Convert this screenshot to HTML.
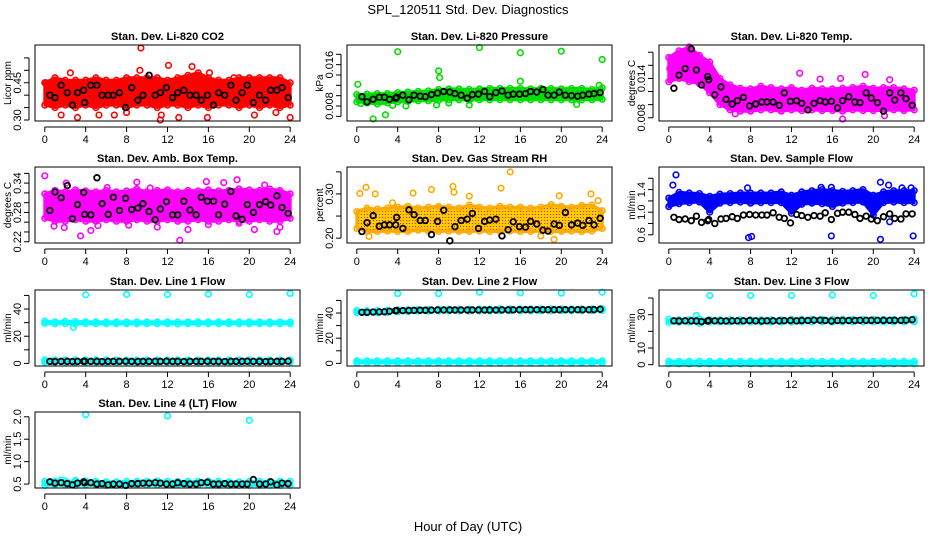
<!DOCTYPE html>
<html><head><meta charset="utf-8"><style>
html,body{margin:0;padding:0;background:#fff;}
svg{display:block;font-family:"Liberation Sans",sans-serif;}
</style></head><body>
<svg id="fig" width="936" height="540" viewBox="0 0 936 540" xmlns="http://www.w3.org/2000/svg">
<defs>
<pattern id="rhpat" width="3" height="3" patternUnits="userSpaceOnUse"><rect width="3" height="3" fill="#ffcc00"/><rect x="1" y="1" width="1" height="1" fill="#ff2000"/></pattern>
</defs>
<text x="468" y="14" font-size="13" text-anchor="middle">SPL_120511  Std. Dev. Diagnostics</text>
<text x="468" y="531" font-size="13" text-anchor="middle">Hour of Day (UTC)</text>
<g id="panels"></g>
</svg>
<script>
// shared hour grids
const bandHours = [0,1,2,3,4,5,6,7,8,9,10,11,12,13,14,15,16,17,18,19,20,21,22,23,24];
const blkHours = [0.5,1,1.6,2.2,2.7,3.2,3.8,3.9,4.5,5.1,5.6,6.2,6.7,7.3,7.9,8.5,9.1,9.6,10.2,10.8,11.3,11.9,12.5,13,13.6,14.2,14.8,15.3,15.9,16.5,17,17.6,18.2,18.7,19.3,19.8,20.4,21,21.6,22.1,22.7,23.2,23.8];
const xTicks = [0,4,8,12,16,20,24];

// Panel 1 CO2
const co2Lo = [0.36,0.35,0.36,0.35,0.36,0.35,0.36,0.36,0.35,0.36,0.36,0.35,0.36,0.36,0.35,0.36,0.35,0.36,0.36,0.35,0.36,0.35,0.36,0.35,0.36];
const co2Hi = [0.45,0.47,0.46,0.46,0.46,0.47,0.46,0.46,0.47,0.47,0.47,0.47,0.46,0.47,0.48,0.49,0.47,0.46,0.46,0.47,0.47,0.47,0.47,0.47,0.45];
const co2OutX = [9.4,12.1,14.4,9.3,2.5,16.1,11.3,3.2,24,1.6,15.9,5.3,13.1,20.5,22.6,6.8,8,0.1,11.4,18.5];
const co2OutY = [0.59,0.52,0.515,0.50,0.49,0.49,0.30,0.31,0.31,0.32,0.31,0.32,0.31,0.32,0.33,0.32,0.33,0.45,0.32,0.47];
const co2Blk = [0.40,0.39,0.44,0.41,0.36,0.41,0.42,0.37,0.44,0.44,0.40,0.40,0.40,0.41,0.35,0.43,0.38,0.40,0.48,0.40,0.41,0.43,0.39,0.41,0.42,0.40,0.40,0.38,0.40,0.36,0.41,0.40,0.44,0.38,0.41,0.44,0.37,0.40,0.38,0.42,0.42,0.43,0.39];
// Panel 2 Pressure
const prLo = [0.0088,0.0086,0.0084,0.0086,0.0088,0.0089,0.0090,0.0090,0.0091,0.0092,0.0092,0.0091,0.0092,0.0092,0.0092,0.0092,0.0092,0.0092,0.0092,0.0092,0.0092,0.0092,0.0092,0.0092,0.0093];
const prHi = [0.0102,0.0103,0.0104,0.0104,0.0106,0.0107,0.0108,0.0109,0.0112,0.0113,0.0113,0.0112,0.0113,0.0114,0.0114,0.0114,0.0114,0.0113,0.0114,0.0114,0.0113,0.0114,0.0114,0.0112,0.0115];
const prOutX = [4,12,16,20,24,8,8.1,0.1,16,1.6,2.8,4.8,7.8,11,21.5,0.4,3.5,9,23.7];
const prOutY = [0.0185,0.0193,0.0183,0.0186,0.0170,0.0148,0.0135,0.0122,0.0128,0.0055,0.0063,0.0080,0.0082,0.0082,0.0083,0.0085,0.0081,0.0086,0.0120];
const prBlk = [0.0098,0.0088,0.0093,0.0097,0.0097,0.0093,0.0095,0.0097,0.0101,0.0092,0.0101,0.0099,0.0098,0.0102,0.0105,0.0108,0.0107,0.0104,0.0101,0.0095,0.0102,0.0103,0.0108,0.0098,0.0106,0.0109,0.0101,0.0103,0.0103,0.0104,0.0108,0.0107,0.0112,0.0101,0.0101,0.0107,0.0101,0.0100,0.0099,0.0101,0.0103,0.0104,0.0106];
// Panel 3 Temp
const tmLo = [0.0135,0.0140,0.0135,0.0132,0.0118,0.0100,0.0092,0.0090,0.0090,0.0092,0.0092,0.0090,0.0092,0.0091,0.0092,0.0091,0.0091,0.0090,0.0092,0.0091,0.0091,0.0091,0.0092,0.0091,0.0092];
const tmHi = [0.0172,0.0182,0.0188,0.0175,0.0165,0.0140,0.0130,0.0125,0.0124,0.0128,0.0126,0.0124,0.0126,0.0122,0.0125,0.0124,0.0124,0.0125,0.0126,0.0128,0.0125,0.0126,0.0126,0.0124,0.0122];
const tmOutX = [12.8,16.8,19.2,21.6,17,21.1,6.5,0.1,14.8];
const tmOutY = [0.0148,0.0140,0.0146,0.0138,0.0078,0.0083,0.0086,0.0155,0.0139];
const tmBlk = [0.0125,0.0145,0.0155,0.0185,0.0153,0.0130,0.0143,0.0138,0.0115,0.0127,0.0108,0.0101,0.0106,0.0111,0.0098,0.0101,0.0104,0.0104,0.0104,0.0099,0.0118,0.0105,0.0106,0.0102,0.0092,0.0102,0.0106,0.0104,0.0105,0.0095,0.0106,0.0112,0.0104,0.0103,0.0118,0.0110,0.0103,0.0090,0.0118,0.0107,0.0118,0.0109,0.0099];
// Panel 4 Amb box temp
const abLo = [0.268,0.262,0.262,0.265,0.262,0.262,0.265,0.262,0.262,0.265,0.262,0.262,0.265,0.262,0.262,0.265,0.262,0.262,0.265,0.262,0.262,0.265,0.262,0.262,0.268];
const abHi = [0.318,0.325,0.322,0.326,0.324,0.322,0.325,0.322,0.324,0.328,0.322,0.325,0.326,0.322,0.325,0.324,0.326,0.324,0.325,0.328,0.326,0.325,0.328,0.325,0.318];
const abOutX = [0,3.5,13.2,4.5,1.9,9,11,14,15.8,18.8,20.5,21.5,22.7,8.2,5.2,0.9,6.1,2.1,17.5,10.3,16,19,23];
const abOutY = [0.355,0.232,0.223,0.243,0.249,0.342,0.250,0.245,0.343,0.347,0.245,0.336,0.241,0.254,0.253,0.252,0.331,0.340,0.341,0.330,0.255,0.258,0.250];
const abBlk = [0.284,0.322,0.310,0.335,0.267,0.296,0.321,0.276,0.275,0.351,0.298,0.276,0.311,0.284,0.309,0.286,0.289,0.298,0.282,0.265,0.287,0.302,0.275,0.275,0.303,0.285,0.275,0.311,0.303,0.303,0.275,0.297,0.323,0.273,0.266,0.296,0.280,0.296,0.302,0.295,0.314,0.290,0.278];
// Panel 5 Gas stream RH
const rhLo = [0.222,0.215,0.215,0.216,0.215,0.215,0.218,0.216,0.215,0.216,0.215,0.215,0.216,0.215,0.215,0.216,0.215,0.215,0.216,0.215,0.215,0.216,0.215,0.216,0.222];
const rhHi = [0.260,0.268,0.266,0.268,0.270,0.272,0.268,0.270,0.272,0.270,0.268,0.275,0.270,0.268,0.272,0.270,0.270,0.268,0.270,0.276,0.272,0.270,0.274,0.275,0.262];
const rhOutX = [15,0.9,0.3,1.8,7.3,9.4,9.5,14.1,5.5,19.3,1.2,18,3.5,11,22.9,23.6,19.8];
const rhOutY = [0.350,0.315,0.301,0.300,0.310,0.317,0.304,0.313,0.302,0.197,0.204,0.205,0.280,0.295,0.300,0.285,0.296];
const rhBlk = [0.215,0.235,0.251,0.227,0.230,0.230,0.230,0.247,0.222,0.264,0.253,0.240,0.240,0.208,0.238,0.263,0.194,0.226,0.240,0.243,0.256,0.222,0.238,0.241,0.243,0.205,0.219,0.237,0.226,0.225,0.238,0.232,0.218,0.216,0.232,0.229,0.258,0.230,0.234,0.229,0.240,0.230,0.245];
// Panel 6 Sample flow
const sfLo = [1.10,1.15,1.17,1.18,1.00,1.16,1.17,1.18,1.16,1.17,1.17,1.17,0.98,1.14,1.16,1.15,1.10,1.16,1.17,1.18,0.95,1.17,1.18,1.17,1.17];
const sfHi = [1.25,1.35,1.34,1.33,1.28,1.32,1.33,1.34,1.34,1.34,1.34,1.36,1.30,1.36,1.38,1.40,1.38,1.37,1.38,1.40,1.30,1.36,1.38,1.38,1.38];
const sfOutX = [0.7,0.4,7.8,8.1,15.9,23.9,20.7,20.7,21.5,7.7,14.9,15.9,21.6,22.8,23.7];
const sfOutY = [1.66,1.48,0.55,0.57,0.58,0.58,0.52,1.53,1.48,1.43,1.44,1.44,0.83,1.43,1.43];
const sfBlk = [0.91,0.87,0.88,0.85,0.93,0.82,0.85,0.87,0.80,0.88,0.89,0.92,0.89,0.95,0.96,0.95,0.95,0.95,0.99,0.91,0.89,0.81,0.96,0.94,0.91,0.94,0.93,0.99,0.87,0.98,1.00,1.00,0.96,0.89,0.93,0.88,0.85,0.92,0.97,0.89,0.88,0.97,0.97];
// Panel 7 Line 1 flow
const l1HiLo = [29.5,29.2,29.3,29.2,29.3,29.2,29.2,29.2,29.2,29.2,29.2,29.2,29.2,29.0,29.2,29.2,29.2,29.2,29.2,29.2,29.2,29.2,29.2,29.2,29.2];
const l1HiHi = [31.0,30.5,31.0,30.8,30.6,30.5,30.5,30.5,30.5,30.5,30.5,30.5,30.5,30.5,30.5,30.5,30.5,30.5,30.5,30.5,30.5,30.5,30.5,30.5,30.5];
const l1LoLo = [1.0,1.0,1.0,1.0,1.0,1.0,1.0,1.0,1.0,1.0,1.0,1.0,1.0,1.0,1.0,1.0,1.0,1.0,1.0,1.0,1.0,1.0,1.0,1.0,1.0];
const l1LoHi = [2.5,2.5,2.5,2.5,2.5,2.5,2.5,2.5,2.5,2.5,2.5,2.5,2.5,2.5,2.5,2.5,2.5,2.5,2.5,2.5,2.5,2.5,2.5,2.5,2.5];
const l1OutX = [4,8,12,16,20,24,2.8];
const l1OutY = [50.5,50.8,50.7,51.0,50.7,51.5,26.5];
const l1Blk = [1.5,1.4,1.5,1.5,1.4,1.5,1.5,1.6,1.5,1.5,1.4,1.5,1.5,1.5,1.6,1.5,1.4,1.5,1.5,1.5,1.5,1.6,1.5,1.5,1.4,1.5,1.5,1.5,1.6,1.5,1.5,1.4,1.5,1.5,1.5,1.6,1.5,1.5,1.4,1.5,1.5,1.5,1.7];
// Panel 8 Line 2 flow
const l2HiLo = [40.5,40.2,40.3,40.5,41.0,41.2,41.4,41.5,41.6,41.6,41.6,41.6,41.6,41.6,41.7,41.7,41.7,41.7,41.7,41.7,41.8,41.8,41.8,41.8,42.0];
const l2HiHi = [42.0,41.8,42.0,42.2,42.4,42.6,42.8,42.8,43.0,43.0,43.0,43.0,43.2,43.2,43.3,43.3,43.3,43.3,43.3,43.3,43.3,43.3,43.3,43.3,43.5];
const l2LoLo = [0.4,0.4,0.4,0.4,0.4,0.4,0.4,0.4,0.4,0.4,0.4,0.4,0.4,0.4,0.4,0.4,0.4,0.4,0.4,0.4,0.4,0.4,0.4,0.4,0.4];
const l2LoHi = [2.0,2.0,2.0,2.0,2.0,2.0,2.0,2.0,2.0,2.0,2.0,2.0,2.0,2.0,2.0,2.0,2.0,2.0,2.0,2.0,2.0,2.0,2.0,2.0,2.0];
const l2OutX = [4,8,12,16,20,24];
const l2OutY = [55.5,55.5,56.5,56.0,55.8,56.5];
const l2Blk = [40.6,40.6,40.8,40.9,41.0,41.4,41.8,42.0,41.9,42.0,42.1,42.2,42.2,42.3,42.4,42.4,42.4,42.4,42.4,42.4,42.4,42.4,42.4,42.4,42.4,42.5,42.5,42.5,42.6,42.6,42.6,42.6,42.6,42.6,42.6,42.6,42.6,42.6,42.6,42.6,42.6,42.7,43.0];
// Panel 9 Line 3 flow
const l3HiLo = [25.3,25.5,25.6,24.8,25.6,25.6,25.6,25.6,25.6,25.6,25.6,25.6,25.6,25.7,25.7,25.7,25.6,25.7,25.7,25.7,25.7,25.7,25.7,25.6,25.8];
const l3HiHi = [27.3,27.0,27.0,27.5,27.0,27.0,27.0,27.0,27.0,27.0,27.0,27.0,27.2,27.3,27.3,27.2,27.3,27.2,27.2,27.2,27.2,27.2,27.2,27.2,27.4];
const l3LoLo = [0.5,0.5,0.5,0.5,0.5,0.5,0.5,0.5,0.5,0.5,0.5,0.5,0.5,0.5,0.5,0.5,0.5,0.5,0.5,0.5,0.5,0.5,0.5,0.5,0.5];
const l3LoHi = [2.0,2.0,2.0,2.0,2.0,2.0,2.0,2.0,2.0,2.0,2.0,2.0,2.0,2.0,2.0,2.0,2.0,2.0,2.0,2.0,2.0,2.0,2.0,2.0,2.0];
const l3OutX = [4,8,12,16,20,24,2.7];
const l3OutY = [41.5,41.5,41.5,41.8,41.5,42.5,29.5];
const l3Blk = [26.3,26.2,26.3,26.3,26.2,25.8,26.2,26.5,26.3,26.3,26.2,26.3,26.3,26.3,26.5,26.3,26.2,26.3,26.3,26.3,26.4,26.5,26.3,26.5,26.5,26.7,26.7,26.5,26.2,26.5,26.5,26.5,26.5,26.6,26.6,26.6,26.6,26.6,26.6,26.6,26.6,26.7,27.0];
// Panel 10 Line 4 (LT) flow
const l4Lo = [0.47,0.48,0.48,0.47,0.48,0.48,0.47,0.47,0.47,0.48,0.48,0.48,0.48,0.48,0.48,0.48,0.48,0.47,0.47,0.47,0.47,0.47,0.47,0.47,0.47];
const l4Hi = [0.56,0.56,0.57,0.56,0.57,0.56,0.55,0.55,0.56,0.56,0.56,0.57,0.56,0.56,0.56,0.56,0.57,0.56,0.55,0.55,0.56,0.56,0.56,0.56,0.56];
const l4OutX = [4,12,20,1.6,3];
const l4OutY = [2.05,2.02,1.92,0.59,0.58];
const l4Blk = [0.55,0.52,0.53,0.51,0.48,0.52,0.55,0.53,0.53,0.50,0.51,0.48,0.50,0.50,0.47,0.51,0.51,0.52,0.52,0.53,0.52,0.50,0.50,0.53,0.51,0.50,0.50,0.53,0.54,0.50,0.50,0.51,0.50,0.50,0.50,0.50,0.60,0.50,0.50,0.55,0.48,0.52,0.51];

const NS = 'http://www.w3.org/2000/svg';
const root = document.getElementById('panels');
function mk(tag, attrs, parent){ const e=document.createElementNS(NS,tag); for(const k in attrs) e.setAttribute(k,attrs[k]); (parent||root).appendChild(e); return e; }

const panels = [
 {title:'Stan. Dev. Li-820 CO2', ylab:'Licor ppm', col:0,row:0, ymin:0.296,ymax:0.602, ticks:[0.30,0.35,0.40,0.45,0.50,0.55], labels:['0.30','0.45'], color:'#ff0000', bands:[[co2Lo,co2Hi]], ox:co2OutX, oy:co2OutY, blk:co2Blk},
 {title:'Stan. Dev. Li-820 Pressure', ylab:'kPa', col:1,row:0, ymin:0.0051,ymax:0.0198, ticks:[0.006,0.008,0.010,0.012,0.014,0.016,0.018], labels:['0.008','0.016'], color:'#00dd00', bands:[[prLo,prHi]], ox:prOutX, oy:prOutY, blk:prBlk},
 {title:'Stan. Dev. Li-820 Temp.', ylab:'degrees C', col:2,row:0, ymin:0.0075,ymax:0.0191, ticks:[0.008,0.010,0.012,0.014,0.016,0.018], labels:['0.008','0.014'], color:'#ff00ff', bands:[[tmLo,tmHi]], ox:tmOutX, oy:tmOutY, blk:tmBlk},
 {title:'Stan. Dev. Amb. Box Temp.', ylab:'degrees C', col:0,row:1, ymin:0.2174,ymax:0.373, ticks:[0.22,0.24,0.26,0.28,0.30,0.32,0.34,0.36], labels:['0.22','0.28','0.34'], color:'#ff00ff', bands:[[abLo,abHi]], ox:abOutX, oy:abOutY, blk:abBlk},
 {title:'Stan. Dev. Gas Stream RH', ylab:'percent', col:1,row:1, ymin:0.189,ymax:0.361, ticks:[0.20,0.25,0.30,0.35], labels:['0.20','0.30'], color:'#ffaa00', fill:'url(#rhpat)', bands:[[rhLo,rhHi]], ox:rhOutX, oy:rhOutY, blk:rhBlk},
 {title:'Stan. Dev. Sample Flow', ylab:'ml/min', col:2,row:1, ymin:0.455,ymax:1.80, ticks:[0.6,0.8,1.0,1.2,1.4,1.6], labels:['0.6','1.0','1.4'], color:'#0000ff', bands:[[sfLo,sfHi]], ox:sfOutX, oy:sfOutY, blk:sfBlk},
 {title:'Stan. Dev. Line 1 Flow', ylab:'ml/min', col:0,row:2, ymin:-1.9,ymax:54, ticks:[0,10,20,30,40,50], labels:['0','20','40'], color:'#00ffff', bands:[[l1HiLo,l1HiHi],[l1LoLo,l1LoHi]], ox:l1OutX, oy:l1OutY, blk:l1Blk},
 {title:'Stan. Dev. Line 2 Flow', ylab:'ml/min', col:1,row:2, ymin:-2.1,ymax:58.3, ticks:[0,10,20,30,40,50], labels:['0','20','40'], color:'#00ffff', bands:[[l2HiLo,l2HiHi],[l2LoLo,l2LoHi]], ox:l2OutX, oy:l2OutY, blk:l2Blk},
 {title:'Stan. Dev. Line 3 Flow', ylab:'ml/min', col:2,row:2, ymin:-0.8,ymax:44.8, ticks:[0,10,20,30,40], labels:['0','10','30'], color:'#00ffff', bands:[[l3HiLo,l3HiHi],[l3LoLo,l3LoHi]], ox:l3OutX, oy:l3OutY, blk:l3Blk},
 {title:'Stan. Dev. Line 4 (LT) Flow', ylab:'ml/min', col:0,row:3, ymin:0.412,ymax:2.107, ticks:[0.5,1.0,1.5,2.0], labels:['0.5','1.0','1.5','2.0'], color:'#00ffff', bands:[[l4Lo,l4Hi]], ox:l4OutX, oy:l4OutY, blk:l4Blk}
];
const rowTops = [45,167,290,412];

panels.forEach((p,i)=>{
  const c0 = p.col*312;
  const L=c0+35, R=c0+300, T=rowTops[p.row], B=T+76;
  const xs = h => L + 9.8 + h*(R-L-19.6)/24;
  const ys = v => B - (v-p.ymin)/(p.ymax-p.ymin)*(B-T);
  const g = mk('g',{});
  
  
  const t = mk('text',{x:(L+R)/2,y:T-5,'font-size':'11','font-weight':'bold','text-anchor':'middle'},g);
  t.textContent = p.title;
  
  
  // bands
  p.bands.forEach(bd=>{
    const lo=bd[0], hi=bd[1];
    let pts = bandHours.map((h,k)=>xs(h).toFixed(1)+','+ys(hi[k]).toFixed(1));
    pts = pts.concat(bandHours.map((h,k)=>xs(h).toFixed(1)+','+ys(lo[k]).toFixed(1)).reverse());
    const pg = mk('polygon',{points:pts.join(' '),fill:p.fill||p.color,stroke:p.color,'stroke-width':'3','stroke-linejoin':'round'},g);
    
    
    bandHours.forEach((h,k)=>{
      [hi[k],lo[k]].forEach(v=>{
        const c = mk('circle',{cx:xs(h),cy:ys(v),r:2.8,fill:'none',stroke:p.color,'stroke-width':'1.6'},g);
        
        
      });
    });
  });
  p.ox.forEach((h,k)=>{
    const c = mk('circle',{cx:xs(h),cy:ys(p.oy[k]),r:2.8,fill:'none',stroke:p.color,'stroke-width':'1.6'},g);
    
    
  });
  blkHours.forEach((h,k)=>{
    const c = mk('circle',{cx:xs(h),cy:ys(p.blk[k]),r:2.8,fill:'none',stroke:'#000','stroke-width':'1.8'},g);
    
    
  });
  // box
  const bx = mk('rect',{x:L,y:T,width:R-L,height:B-T,fill:'none',stroke:'#000','stroke-width':'1'},g);
  
  
  // x axis
  const xa = mk('g',{},g);
  
  
  mk('line',{x1:xs(0),x2:xs(24),y1:B+6,y2:B+6,stroke:'#000'},xa);
  xTicks.forEach(h=>{
    mk('line',{x1:xs(h),x2:xs(h),y1:B+6,y2:B+11,stroke:'#000'},xa);
    const tl = mk('text',{x:xs(h),y:B+22,'font-size':'11','text-anchor':'middle'},xa);
    tl.textContent = h;
    
    
  });
  // y axis
  const ya = mk('g',{},g);
  
  
  const ax = L-6;
  mk('line',{x1:ax,x2:ax,y1:ys(p.ticks[0]),y2:ys(p.ticks[p.ticks.length-1]),stroke:'#000'},ya);
  p.ticks.forEach(v=>{
    mk('line',{x1:ax-5,x2:ax,y1:ys(v),y2:ys(v),stroke:'#000'},ya);
  });
  p.labels.forEach(s=>{
    const y = ys(parseFloat(s));
    const tl = mk('text',{x:ax-8,y:y,'font-size':'11','text-anchor':'middle',transform:'rotate(-90 '+(ax-8)+' '+y+')'},ya);
    tl.textContent = s;
    
    
  });
  const yl = mk('text',{x:c0+11,y:(T+B)/2,'font-size':'10','text-anchor':'middle',transform:'rotate(-90 '+(c0+11)+' '+((T+B)/2)+')'},g);
  yl.textContent = p.ylab;
  
  
});
</script>
</body></html>
